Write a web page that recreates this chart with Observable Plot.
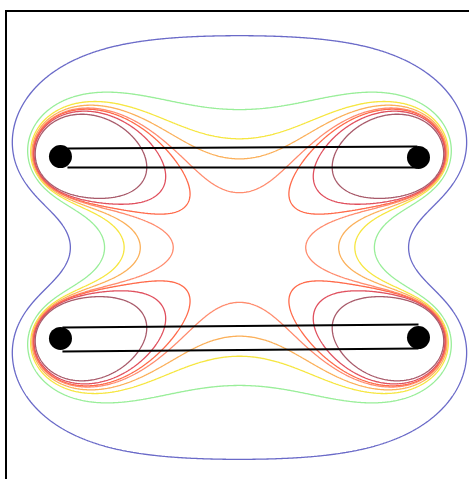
<!DOCTYPE html>
<html><head><meta charset="utf-8">
<script src="https://cdn.jsdelivr.net/npm/d3@7"></script>
<script src="https://cdn.jsdelivr.net/npm/@observablehq/plot@0.6"></script>
<style>
body{margin:0;background:#fff;font-family:"DejaVu Sans",sans-serif}
#wrap{position:relative;width:469px;height:479px;overflow:hidden}
#frame{position:absolute;left:5px;top:10px;width:700px;height:700px;border-left:2px solid #000;border-top:2px solid #000;pointer-events:none}
</style></head><body>
<div id="wrap"><div id="chart"></div><div id="frame"></div></div>
<script>
// Helmholtz coil: two coaxial loops (radius in units of R) and the heights of the loops
const coilRadius = 1;
const coilHeights = [0.5, -0.5];
// wire cross-sections (dots)
const wires = [
  {x: -1.0, y: 0.508}, {x: 1.0, y: 0.503},
  {x: -1.0, y: -0.508}, {x: 1.0, y: -0.503}
];
// coil edges seen in perspective
const coilEdges = [
  {x1: -0.961, y1: 0.553, x2: 0.994, y2: 0.564},
  {x1: -0.961, y1: 0.447, x2: 0.994, y2: 0.447},
  {x1: -0.989, y1: -0.447, x2: 1.0, y2: -0.430},
  {x1: -0.989, y1: -0.581, x2: 1.0, y2: -0.564}
];
// contour levels of |B| (units of mu0*I/R) and their colours
const levels = [0.348, 0.568, 0.642, 0.678, 0.709, 0.723, 0.748, 0.791];
const levelColors = ["#6a6ac8","#99ee99","#f6e640","#fbb05a","#ff8c6e","#ff6a4a","#e0505e","#a85a6a"];

function ellipKE(m){
  let a=1,b=Math.sqrt(1-m),sum=m/2,pow=0.5;
  for(let i=0;i<30;i++){const c=(a-b)/2;const an=(a+b)/2;b=Math.sqrt(a*b);a=an;pow*=2;sum+=pow*c*c;if(Math.abs(c)<1e-15)break;}
  const K=Math.PI/(2*a);return [K,K*(1-sum)];
}
function loopB(rho,z,a,z0){
  const dz=z-z0, Q=(a+rho)*(a+rho)+dz*dz, D=(a-rho)*(a-rho)+dz*dz, m=4*a*rho/Q;
  const [K,E]=ellipKE(m);
  const sq=Math.sqrt(Q);
  const Bz=(K+(a*a-rho*rho-dz*dz)/D*E)/(2*Math.PI*sq);
  const Br=dz*(-K+(a*a+rho*rho+dz*dz)/D*E)/(2*Math.PI*rho*sq);
  return [Br,Bz];
}
const cache=new Map();
function B(x,y){
  const k=x+","+y; let v=cache.get(k); if(v!==undefined) return v;
  const rho=Math.max(Math.abs(x),1e-6);
  let br=0,bz=0;
  for(const z0 of coilHeights){const [r,z]=loopB(rho,y,coilRadius,z0);br+=r;bz+=z;}
  v=Math.hypot(br,bz); cache.set(k,v); return v;
}

const ext={x1:-1.335,x2:1.285,y1:-1.296,y2:1.380};
const marks=levels.map((L,i)=>Plot.contour({...ext,value:B,thresholds:[L],pixelSize:1,fill:"none",stroke:levelColors[i],strokeWidth:1.3}));
marks.push(Plot.link(coilEdges,{x1:"x1",y1:"y1",x2:"x2",y2:"y2",stroke:"#000",strokeWidth:2}));
marks.push(Plot.dot(wires,{x:"x",y:"y",r:11.5,fill:"#000"}));
const chart=Plot.plot({width:469,height:479,margin:0,
  x:{domain:[ext.x1,ext.x2],axis:null},y:{domain:[ext.y1,ext.y2],axis:null},marks});
document.getElementById("chart").appendChild(chart);
</script></body></html>
